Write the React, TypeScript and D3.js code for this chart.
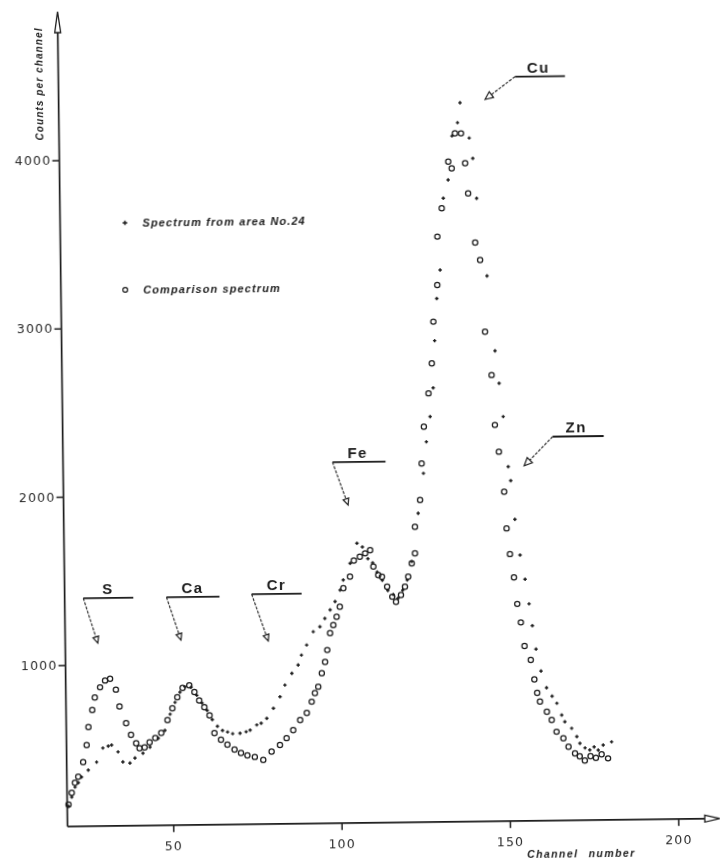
import React, { useRef, useEffect } from "react";
import * as d3 from "d3";

// comparison spectrum (open circles)
const compChannel = [19, 20, 21, 22, 23.5, 24.6, 25.2, 26.4, 27.2, 28.8, 30.3, 31.8, 33.5, 34.5, 36.4, 37.8, 39.3, 40.3, 41.8, 43.3, 45, 46.8, 48.7, 50.2, 51.7, 53.3, 55.3, 56.8, 58.2, 59.7, 61.2, 62.6, 64.5, 66.4, 68.5, 70.4, 72.3, 74.5, 77, 79.5, 82, 84, 86, 88.1, 90.1, 91.6, 92.6, 93.6, 94.7, 95.7, 96.4, 97.3, 98.3, 99.3, 100.3, 101.4, 103.4, 104.6, 106.4, 108, 109.5, 110.4, 111.8, 112.9, 114.4, 115.9, 117, 118.5, 119.7, 120.7, 121.8, 122.8, 122.9, 124.5, 125.1, 125.9, 127.4, 128.5, 129.1, 130.4, 130.6, 132, 134.1, 135.1, 136.2, 138, 139.1, 139.9, 141.8, 143.2, 144.4, 146.2, 147, 148.1, 149.5, 150.1, 151, 152.1, 153, 154, 155, 156.8, 157.8, 158.6, 159.4, 161.4, 162.8, 164.2, 166.2, 167.7, 169.6, 171, 172.5, 174.2, 175.8, 177.5, 179.4];
const compCounts = [170, 240, 300, 335, 422, 522, 630, 730, 805, 865, 905, 915, 850, 750, 650, 580, 530, 500, 505, 535, 560, 590, 665, 735, 800, 855, 870, 830, 780, 740, 690, 585, 545, 515, 485, 465, 450, 440, 421, 470, 509, 550, 597, 656, 698, 764, 815, 853, 932, 1000, 1070, 1170, 1218, 1267, 1326, 1436, 1504, 1600, 1622, 1642, 1660, 1562, 1512, 1502, 1442, 1382, 1352, 1392, 1441, 1500, 1579, 1638, 1796, 1955, 2172, 2390, 2588, 2766, 3013, 3231, 3518, 3686, 3963, 3923, 4131, 4130, 3952, 3773, 3480, 3376, 2950, 2692, 2395, 2236, 1998, 1780, 1627, 1488, 1330, 1220, 1080, 996, 880, 800, 748, 687, 638, 568, 528, 478, 438, 420, 395, 420, 410, 430, 406];

// spectrum from area No.24 (plus marks)
const areaChannel = [19, 20, 21, 22, 23, 25, 27.5, 29.4, 31, 32, 33.9, 35.3, 37.4, 38.9, 41.3, 43.4, 45.9, 47.9, 49.5, 51, 52.5, 54, 55.8, 57.5, 59, 60.5, 62, 63.5, 65, 66.5, 68, 70.2, 72, 73.2, 75.2, 76.5, 78.2, 80.2, 82.2, 83.7, 85.8, 87.7, 88.7, 90.3, 92.3, 94.3, 95.8, 97.4, 98.9, 100.4, 101.4, 103.5, 105.6, 107.2, 108.8, 110.2, 111.5, 113, 114.6, 116.2, 117.6, 119, 120.4, 121.8, 123.9, 125.6, 126.6, 127.8, 128.8, 129.4, 130.2, 131.3, 132.5, 134, 135.3, 137, 137.8, 140.4, 141.4, 142.4, 145.2, 147.3, 148.4, 149.5, 150.8, 151.5, 152.6, 154, 155.4, 156.5, 157.4, 158.4, 159.8, 161.4, 163, 164.4, 165.8, 166.7, 168.7, 170.2, 171.1, 172.6, 174, 175.3, 176.5, 178, 180.5];
const areaCounts = [160, 215, 274, 300, 333, 374, 421, 504, 515, 521, 480, 420, 413, 442, 471, 506, 558, 604, 700, 770, 830, 862, 858, 810, 765, 720, 665, 625, 600, 590, 580, 582, 590, 600, 630, 640, 668, 728, 796, 865, 934, 983, 1042, 1101, 1180, 1209, 1258, 1308, 1357, 1425, 1485, 1583, 1702, 1680, 1610, 1585, 1530, 1480, 1420, 1395, 1372, 1420, 1480, 1590, 1876, 2113, 2300, 2449, 2620, 2900, 3150, 3320, 3746, 3854, 4115, 4194, 4312, 4102, 3981, 3743, 3281, 2835, 2642, 2444, 2146, 2063, 1833, 1620, 1476, 1330, 1200, 1060, 930, 830, 780, 737, 667, 627, 587, 537, 497, 470, 457, 475, 456, 485, 504];

const yTicks = [1000, 2000, 3000, 4000];
const xTicks = [50, 100, 150, 200];

// element peaks pointed at by the labels
const peakNames = ["S", "Ca", "Cr", "Fe", "Cu", "Zn"];
const peakChannel = [28, 52.7, 78.6, 102.8, 146.2, 156.4];
const peakCounts = [1146, 1158, 1146, 1948, 4344, 2167];

const legendLabels = ["Spectrum from area No.24", "Comparison spectrum"];

// label layout (px offsets from the pointed peak)
const shelfDx = [-13, -13, -15, -14, 27, 26];
const shelfDy = [-42, -40, -44, -40, -20, -26];
const shelfLen = [50, 53, 50, 53, 50, 51];
const textDx = [19, 15, 15, 15, 12, 13];

const W = 720;
const H = 865;
const ink = "#1c1c1c";

function App() {
  const svgRef = useRef<SVGSVGElement>(null);

  useEffect(() => {
    const svg = d3.select(svgRef.current);
    svg.selectAll("*").remove();

    svg.append("defs")
      .append("filter").attr("id", "scan")
      .append("feGaussianBlur").attr("stdDeviation", 0.5);

    // the scanned page is a bit tilted
    const g = svg.append("g")
      .attr("transform", "rotate(-0.7 360 430)")
      .attr("filter", "url(#scan)");

    const x = d3.scaleLinear().domain([0, 200]).range([0, 673.4]);
    const y = d3.scaleLinear().domain([0, 4000]).range([829.7, 156.5]);
    const axisX = x(18.6);
    const axisY = y(41);

    // axis lines + open arrow heads
    g.append("line")
      .attr("x1", axisX).attr("x2", axisX)
      .attr("y1", axisY).attr("y2", 28)
      .attr("stroke", ink).attr("stroke-width", 1.7);
    g.append("path")
      .attr("d", `M${axisX - 3},29 L${axisX},8 L${axisX + 3},29 Z`)
      .attr("fill", "#fff").attr("stroke", ink).attr("stroke-width", 1.3);

    g.append("line")
      .attr("x1", axisX).attr("x2", 700)
      .attr("y1", axisY).attr("y2", axisY)
      .attr("stroke", ink).attr("stroke-width", 1.7);
    g.append("path")
      .attr("d", `M700,${axisY - 3.5} L715,${axisY} L700,${axisY + 3.5} Z`)
      .attr("fill", "#fff").attr("stroke", ink).attr("stroke-width", 1.3);

    //y ticks
    const yAxis = g.append("g")
      .attr("transform", `translate(${axisX},0)`)
      .call(d3.axisLeft(y).tickValues(yTicks).tickSize(7).tickPadding(1).tickFormat(d3.format("d")));
    yAxis.select(".domain").remove();

    //x ticks
    const xAxis = g.append("g")
      .attr("transform", `translate(0,${axisY})`)
      .call(d3.axisBottom(x).tickValues(xTicks).tickSize(7).tickPadding(9).tickFormat(d3.format("d")));
    xAxis.select(".domain").remove();

    [yAxis, xAxis].forEach(a => {
      a.attr("font-family", "DejaVu Sans").attr("font-size", 12.5);
      a.selectAll("line").attr("stroke", ink).attr("stroke-width", 1.5);
      a.selectAll("text").attr("fill", "#2a2a2a").attr("letter-spacing", 1.2);
    });

    // axis titles
    g.append("text")
      .attr("transform", `translate(47,80) rotate(-90)`)
      .attr("text-anchor", "middle")
      .attr("font-family", "Liberation Sans").attr("font-style", "italic").attr("font-weight", "bold")
      .attr("font-size", 10).attr("letter-spacing", 1.1).attr("fill", ink)
      .text("Counts per channel");

    g.append("text")
      .attr("x", 522).attr("y", 860)
      .attr("font-family", "Liberation Sans").attr("font-style", "italic").attr("font-weight", "bold")
      .attr("font-size", 10.5).attr("letter-spacing", 1.4).attr("word-spacing", 6).attr("fill", ink)
      .text("Channel number");

    // data: comparison spectrum
    g.selectAll(".comp")
      .data(d3.zip(compChannel, compCounts))
      .join("circle")
      .attr("class", "comp")
      .attr("cx", d => x(d[0]))
      .attr("cy", d => y(d[1]))
      .attr("r", 2.6)
      .attr("fill", "none")
      .attr("stroke", ink)
      .attr("stroke-width", 1.25);

    // data: spectrum from area
    const plus = (cx: number, cy: number, s: number) =>
      `M${cx - s},${cy}h${2 * s}M${cx},${cy - s}v${2 * s}`;

    g.selectAll(".area")
      .data(d3.zip(areaChannel, areaCounts))
      .join("path")
      .attr("class", "area")
      .attr("d", d => plus(x(d[0]), y(d[1]), 1.7))
      .attr("stroke", ink)
      .attr("stroke-width", 1.4);

    // legend
    const legend = g.append("g");
    legend.append("path").attr("d", plus(127.5, 220, 2.3)).attr("stroke", ink).attr("stroke-width", 1.5);
    legend.append("circle").attr("cx", 127).attr("cy", 287).attr("r", 2.4)
      .attr("fill", "none").attr("stroke", ink).attr("stroke-width", 1.2);
    legend.selectAll("text")
      .data(legendLabels)
      .join("text")
      .attr("x", 145)
      .attr("y", (d, i) => (i === 0 ? 224 : 291))
      .attr("font-family", "Liberation Sans").attr("font-style", "italic").attr("font-weight", "bold")
      .attr("font-size", 11).attr("letter-spacing", 1.1).attr("fill", ink)
      .text(d => d);

    // element labels with leaders
    peakNames.forEach((name, i) => {
      const mx = x(peakChannel[i]);
      const my = y(peakCounts[i]);
      const lx = mx + shelfDx[i];
      const ly = my + shelfDy[i];

      g.append("line")
        .attr("x1", lx).attr("x2", lx + shelfLen[i])
        .attr("y1", ly).attr("y2", ly)
        .attr("stroke", ink).attr("stroke-width", 1.8);
      g.append("line")
        .attr("x1", lx).attr("y1", ly)
        .attr("x2", mx).attr("y2", my)
        .attr("stroke", ink).attr("stroke-width", 1.1)
        .attr("stroke-dasharray", "3 1.4");

      const len = Math.hypot(mx - lx, my - ly);
      const ux = (mx - lx) / len, uy = (my - ly) / len;
      const nx = -uy, ny = ux;
      const s = i >= 4 ? 8 : 6.5;
      const tip = [mx + ux * s * 0.5, my + uy * s * 0.5];
      const b1 = [mx - ux * s * 0.5 + nx * s * 0.45, my - uy * s * 0.5 + ny * s * 0.45];
      const b2 = [mx - ux * s * 0.5 - nx * s * 0.45, my - uy * s * 0.5 - ny * s * 0.45];
      g.append("path")
        .attr("d", `M${tip}L${b1}L${b2}Z`)
        .attr("fill", "#fff").attr("stroke", ink).attr("stroke-width", 1.2);

      g.append("text")
        .attr("x", lx + textDx[i]).attr("y", ly - 4)
        .attr("font-family", "Liberation Sans").attr("font-weight", "bold")
        .attr("font-size", 15).attr("letter-spacing", 1.5).attr("fill", ink)
        .text(name);
    });
  }, []);

  return (
    <svg
      ref={svgRef}
      width={W}
      height={H}
      style={{ position: "absolute", left: 0, top: 0, background: "#fff" }}
    />
  );
}

export default App;
